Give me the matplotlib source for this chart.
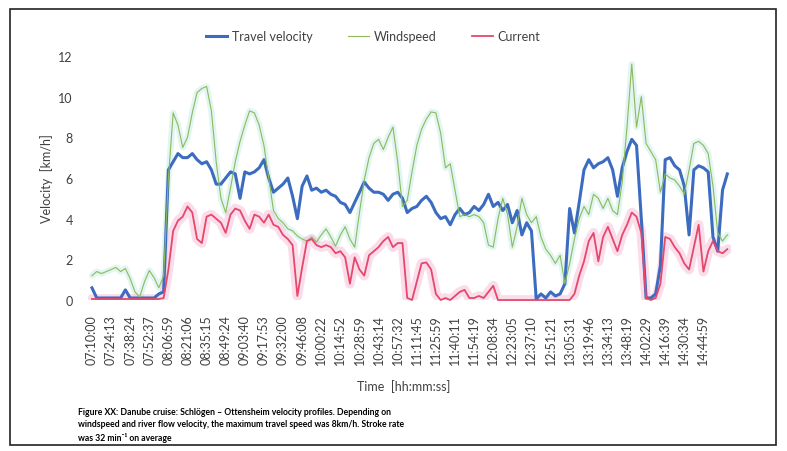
import numpy as np
import matplotlib
matplotlib.use("Agg")
import matplotlib.pyplot as plt
from matplotlib.patches import Rectangle

plt.rcParams["font.family"] = ["Lato", "DejaVu Sans"]

# time labels every 4th sample
time_labels = [
    "07:10:00", "07:24:13", "07:38:24", "07:52:37", "08:06:59", "08:21:06",
    "08:35:15", "08:49:24", "09:03:40", "09:17:53", "09:32:00", "09:46:08",
    "10:00:22", "10:14:52", "10:28:59", "10:43:14", "10:57:32", "11:11:45",
    "11:25:59", "11:40:11", "11:54:19", "12:08:34", "12:23:05", "12:37:10",
    "12:51:21", "13:05:31", "13:19:46", "13:34:13", "13:48:19", "14:02:29",
    "14:16:39", "14:30:34", "14:44:59",
]

# km/h
travel_velocity = [
    0.6, 0.1, 0.1, 0.1, 0.1, 0.1, 0.1, 0.5, 0.1, 0.1,
    0.1, 0.1, 0.1, 0.1, 0.3, 0.4, 6.4, 6.8, 7.2, 7.0,
    7.0, 7.2, 6.9, 6.7, 6.8, 6.4, 5.7, 5.7, 6.0, 6.3,
    6.2, 5.0, 6.3, 6.2, 6.3, 6.5, 6.9, 6.0, 5.3, 5.5,
    5.7, 6.0, 5.1, 4.0, 5.6, 6.1, 5.4, 5.5, 5.3, 5.4,
    5.2, 5.1, 4.8, 4.7, 4.3, 4.8, 5.3, 5.8, 5.5, 5.3,
    5.3, 5.2, 4.9, 5.2, 5.3, 5.0, 4.3, 4.5, 4.6, 4.9,
    5.1, 4.8, 4.3, 4.0, 4.1, 3.7, 4.2, 4.5, 4.2, 4.3,
    4.6, 4.4, 4.7, 5.2, 4.6, 4.8, 4.4, 4.7, 3.8, 4.4,
    3.2, 3.8, 3.4, 0.05, 0.3, 0.1, 0.4, 0.2, 0.3, 0.8,
    4.5, 3.3, 4.8, 6.4, 6.9, 6.5, 6.7, 6.8, 7.0, 6.4,
    5.1, 6.5, 7.3, 7.9, 7.6, 4.0, 0.1, 0.1, 0.3, 1.7,
    6.9, 7.0, 6.6, 6.4, 5.6, 3.2, 6.4, 6.6, 6.5, 6.3,
    3.1, 2.4, 5.4, 6.2,
]

windspeed = [
    1.2, 1.4, 1.3, 1.4, 1.5, 1.6, 1.4, 1.55, 1.05, 0.4,
    0.15, 0.9, 1.45, 1.1, 0.6, 1.2, 6.0, 9.2, 8.6, 7.5,
    8.0, 9.2, 10.2, 10.4, 10.5, 9.3, 6.8, 5.0, 4.3, 5.5,
    6.8, 7.8, 8.6, 9.3, 9.2, 8.6, 7.6, 6.0, 4.4, 4.0,
    3.8, 3.5, 3.4, 3.15, 3.0, 2.9, 3.1, 2.85, 3.2, 3.5,
    3.1, 2.65, 3.2, 3.6, 3.0, 2.6, 4.3, 5.9, 7.0, 7.7,
    7.9, 7.4, 8.0, 8.5, 6.8, 4.6, 4.9, 6.3, 7.6, 8.4,
    8.9, 9.25, 9.2, 8.2, 6.5, 6.7, 5.4, 4.1, 4.2, 4.1,
    4.2, 4.1, 3.8, 2.7, 2.6, 4.0, 5.0, 4.2, 2.6, 3.6,
    5.0, 4.2, 3.8, 4.1, 3.1, 2.5, 2.2, 1.8, 2.2, 0.8,
    1.8, 3.0, 4.0, 4.6, 4.2, 5.2, 5.0, 4.5, 5.0, 4.4,
    4.2, 5.8, 8.5, 11.6, 8.5, 10.0, 7.7, 7.3, 6.9, 5.3,
    6.2, 6.0, 5.9, 5.6, 5.2, 6.4, 7.7, 7.8, 7.6, 7.2,
    5.6, 3.3, 2.9, 3.2,
]

current = [
    0.05, 0.05, 0.05, 0.05, 0.05, 0.05, 0.05, 0.05, 0.05, 0.05,
    0.05, 0.05, 0.05, 0.05, 0.05, 0.1, 1.5, 3.4, 3.9, 4.1,
    4.6, 4.3, 3.0, 2.8, 4.1, 4.2, 4.0, 3.8, 3.3, 4.2,
    4.5, 4.4, 3.9, 3.5, 4.2, 4.1, 3.8, 4.2, 3.7, 3.6,
    3.2, 3.0, 2.7, 0.2, 1.6, 2.9, 3.0, 2.7, 2.6, 2.7,
    2.6, 2.3, 2.4, 2.1, 0.8, 2.1, 1.5, 1.2, 2.2, 2.4,
    2.6, 2.9, 3.1, 2.6, 2.8, 2.8, 0.1, 0.0, 0.9, 1.8,
    1.85, 1.5, 0.3, 0.0, 0.1, 0.0, 0.2, 0.4, 0.5, 0.1,
    0.1, 0.2, 0.1, 0.4, 0.7, 0.0, 0.0, 0.0, 0.0, 0.0,
    0.0, 0.0, 0.0, 0.0, 0.0, 0.0, 0.0, 0.0, 0.0, 0.0,
    0.0, 0.3, 1.2, 1.9, 2.9, 3.3, 1.9, 3.1, 3.6, 3.0,
    2.4, 3.2, 3.7, 4.3, 4.1, 3.3, 0.1, 0.0, 0.1, 0.8,
    3.1, 3.0, 2.6, 2.3, 1.8, 1.5, 2.6, 3.7, 1.4, 2.4,
    2.9, 2.4, 2.3, 2.5,
]

x = np.arange(len(travel_velocity))

fig = plt.figure(figsize=(7.87, 4.52), dpi=100)
ax = fig.add_axes([0.112, 0.334, 0.817, 0.540])

# soft bands behind the thin series
ax.plot(x, windspeed, color="#c9eee6", lw=4.5, alpha=0.55, solid_capstyle="round")
ax.plot(x, current, color="#f4a9cf", lw=7, alpha=0.4, solid_capstyle="round")

ax.plot(x, travel_velocity, color="#3b6cc0", lw=2.2, label="Travel velocity", clip_on=False)
ax.plot(x, windspeed, color="#8fb85c", lw=0.8, label="Windspeed", clip_on=False)
ax.plot(x, current, color="#e5486a", lw=1.3, label="Current", clip_on=False)

ax.set_xlim(-0.8, 133.8)
ax.set_ylim(0, 12)
ax.set_yticks(range(0, 13, 2))
ax.set_xticks(np.arange(0, 4 * len(time_labels), 4))
ax.set_xticklabels(time_labels, rotation=90)
ax.tick_params(axis="x", length=0, pad=10, labelsize=9, labelcolor="#404040")
ax.tick_params(axis="y", length=0, pad=11, labelsize=9, labelcolor="#404040")
for s in ax.spines.values():
    s.set_visible(False)

ax.set_ylabel("Velocity  [km/h]", fontsize=9, color="#404040", labelpad=4)
ax.set_xlabel("Time  [hh:mm:ss]", fontsize=9, color="#404040")
ax.xaxis.set_label_coords(0.49, -0.325)

fig.legend(loc="center", bbox_to_anchor=(0.474, 0.918), ncol=3, frameon=False,
           fontsize=9, handlelength=1.7, handletextpad=0.4, columnspacing=2.8,
           labelcolor="#404040")

caption = ("Figure XX: Danube cruise: Schlögen – Ottensheim velocity profiles. Depending on\n"
           "windspeed and river flow velocity, the maximum travel speed was 8km/h. Stroke rate\n"
           "was 32 min\u207b\u00b9 on average")
fig.text(78 / 787, 1 - 408 / 452, caption, fontsize=6.2, fontweight="bold",
         va="top", ha="left", linespacing=1.5)

# page frame
fig.patches.append(Rectangle((10 / 787, 1 - 446 / 452), 766 / 787, 436 / 452,
                             transform=fig.transFigure, fill=False,
                             edgecolor="#222222", lw=1.2))

fig.savefig("out.png", dpi=100)
